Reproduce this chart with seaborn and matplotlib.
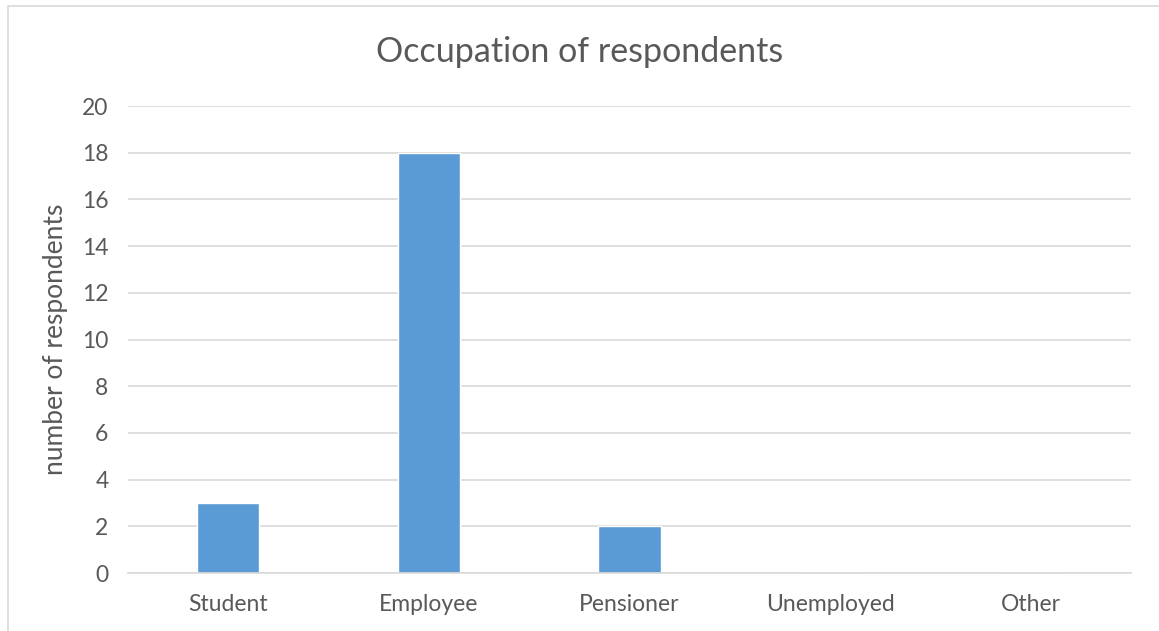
import matplotlib
matplotlib.use("Agg")
import matplotlib.pyplot as plt
from matplotlib.patches import Rectangle
import seaborn as sns
import pandas as pd
import numpy as np

categories = ["Student", "Employee", "Pensioner", "Unemployed", "Other"]
counts = [3, 18, 2, 0, 0]
y_ticks = [0, 2, 4, 6, 8, 10, 12, 14, 16, 18, 20]

sns.set_theme(style="white")
plt.rcParams["font.family"] = ["Lato", "DejaVu Sans"]

text_color = "#595959"
grid_color = "#D9D9D9"
bar_color = "#5B9BD5"

df = pd.DataFrame({"occupation": categories, "count": counts})

fig = plt.figure(figsize=(11.59, 6.31), dpi=100)
ax = fig.add_axes([128 / 1159, 58 / 631, 1003 / 1159, 467 / 631])

sns.barplot(data=df, x="occupation", y="count", color=bar_color,
            saturation=1, width=0.31, ax=ax, zorder=3)

ax.set_ylim(0, 20)
ax.set_xlim(-0.5, len(categories) - 0.5)
ax.set_yticks(y_ticks)
ax.set_yticklabels([str(v) for v in y_ticks], fontsize=16.5, color=text_color)
ax.set_xticks(range(len(categories)))
ax.set_xticklabels(categories, fontsize=16.5, color=text_color)
ax.tick_params(axis="x", which="major", length=0, pad=15)
ax.tick_params(axis="y", length=0, pad=14)

# category separators below the axis line
ax.set_xticks(np.arange(-0.5, len(categories), 1.0), minor=True)
ax.tick_params(axis="x", which="minor", length=7, width=1.2, color=grid_color, direction="out")

ax.yaxis.grid(True, color=grid_color, linewidth=1.2, zorder=0)
ax.xaxis.grid(False)
for side in ["top", "right", "left"]:
    ax.spines[side].set_visible(False)
ax.spines["bottom"].set_color(grid_color)
ax.spines["bottom"].set_linewidth(1.2)
ax.spines["bottom"].set_zorder(4)

ax.set_xlabel("")
ax.set_ylabel("number of respondents", fontsize=19, color=text_color, labelpad=10)

fig.text(0.5, 1 - 52 / 631, "Occupation of respondents", ha="center", va="center",
         fontsize=24.5, color=text_color)

# outer chart-area border
fig.patches.append(Rectangle((8 / 1159, -0.01), 1.02, 1 - 6 / 631 + 0.01,
                             transform=fig.transFigure, fill=False,
                             edgecolor=grid_color, linewidth=1.2))

fig.savefig("out.png", dpi=100)
